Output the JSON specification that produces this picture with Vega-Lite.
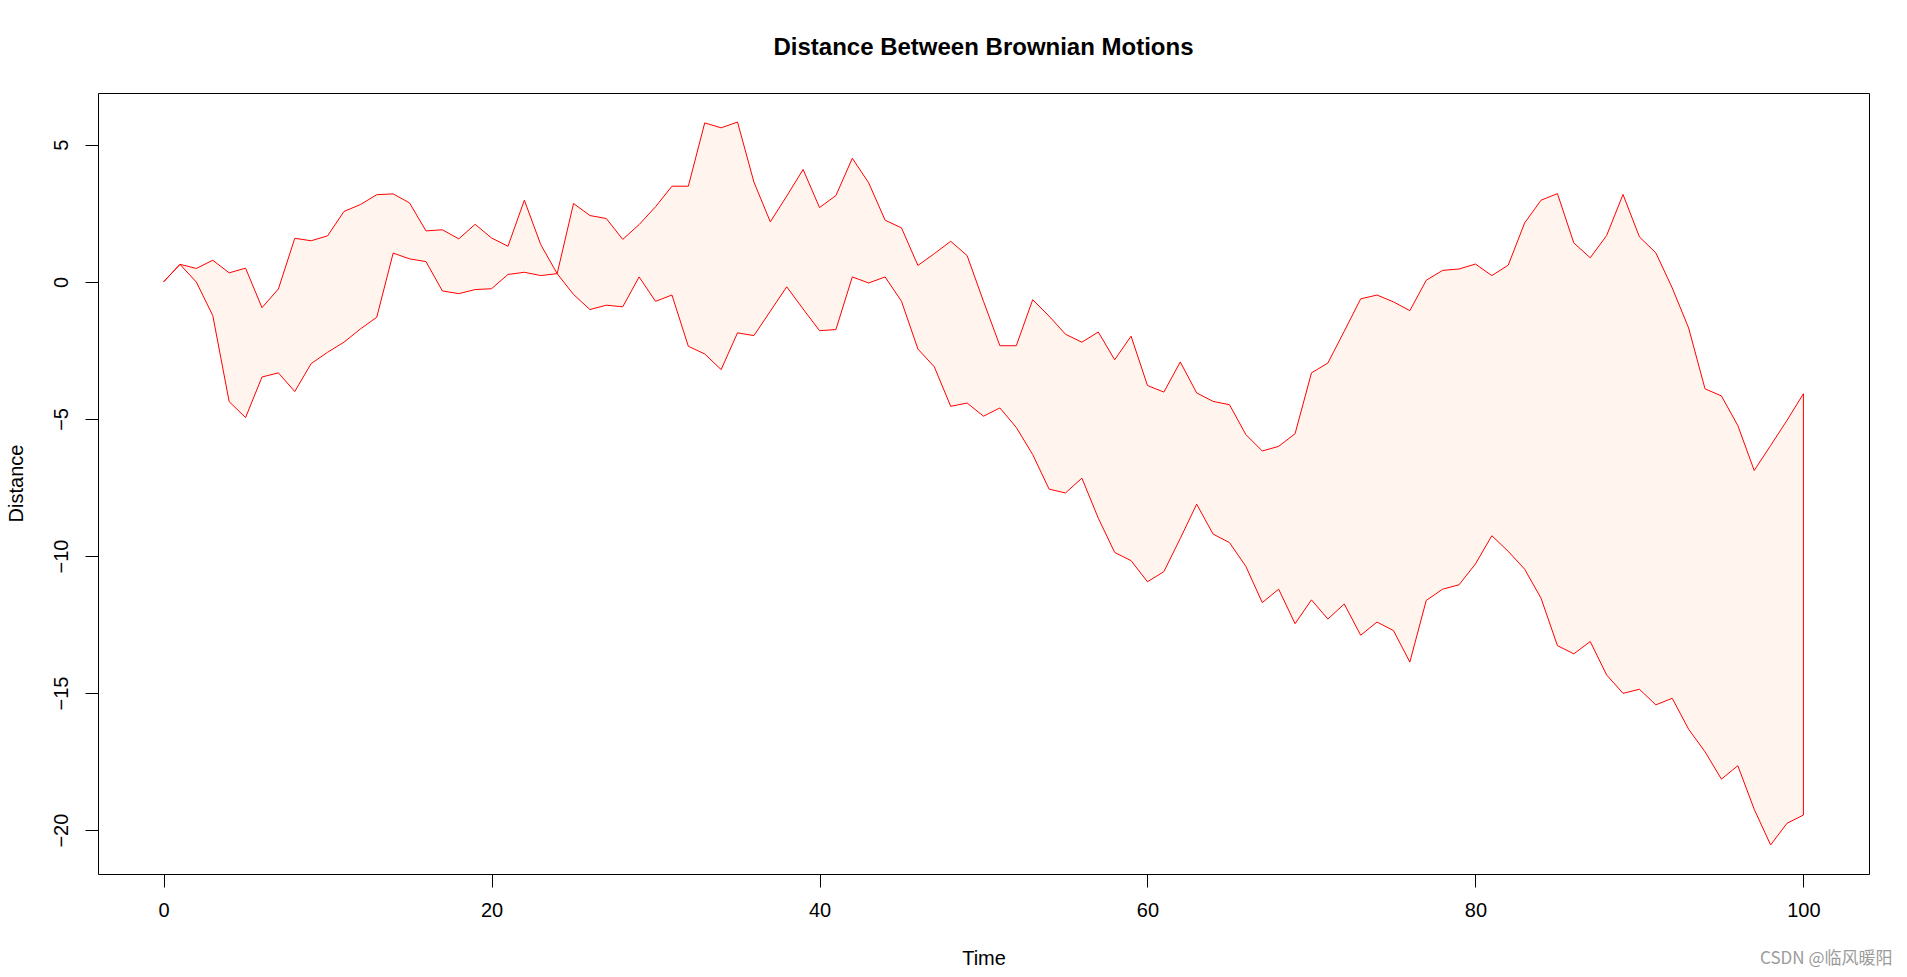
{
  "$schema": "https://vega.github.io/schema/vega-lite/v6.json",
  "width": 1771,
  "height": 781,
  "autosize": "none",
  "padding": {"left": 98, "top": 93, "right": 38, "bottom": 103},
  "background": "white",
  "title": {"text": "Distance Between Brownian Motions", "font": "Liberation Sans", "fontSize": 24, "fontWeight": "bold", "color": "black", "anchor": "middle", "frame": "group", "baseline": "alphabetic", "offset": 14},
  "config": {
    "view": {"stroke": "black", "strokeWidth": 1},
    "axis": {"grid": false, "domain": false, "ticks": true, "tickColor": "black", "tickSize": 13, "tickWidth": 1, "labelFont": "Liberation Sans", "labelFontSize": 20, "labelColor": "black", "labelFlush": false, "labelOverlap": false, "titleFont": "Liberation Sans", "titleFontSize": 20, "titleFontWeight": "normal", "titleColor": "black"}
  },
  "data": {"values": [
    {"t":0,"bm1":0,"bm2":0},
    {"t":1,"bm1":0.64,"bm2":0.64},
    {"t":2,"bm1":0.49,"bm2":-0.01},
    {"t":3,"bm1":0.79,"bm2":-1.23},
    {"t":4,"bm1":0.33,"bm2":-4.37},
    {"t":5,"bm1":0.50,"bm2":-4.95},
    {"t":6,"bm1":-0.94,"bm2":-3.47},
    {"t":7,"bm1":-0.26,"bm2":-3.32},
    {"t":8,"bm1":1.59,"bm2":-4.00},
    {"t":9,"bm1":1.50,"bm2":-2.98},
    {"t":10,"bm1":1.68,"bm2":-2.57},
    {"t":11,"bm1":2.57,"bm2":-2.20},
    {"t":12,"bm1":2.82,"bm2":-1.72},
    {"t":13,"bm1":3.18,"bm2":-1.29},
    {"t":14,"bm1":3.21,"bm2":1.05},
    {"t":15,"bm1":2.88,"bm2":0.84},
    {"t":16,"bm1":1.86,"bm2":0.74},
    {"t":17,"bm1":1.90,"bm2":-0.33},
    {"t":18,"bm1":1.57,"bm2":-0.43},
    {"t":19,"bm1":2.10,"bm2":-0.28},
    {"t":20,"bm1":1.60,"bm2":-0.25},
    {"t":21,"bm1":1.30,"bm2":0.27},
    {"t":22,"bm1":2.98,"bm2":0.35},
    {"t":23,"bm1":1.36,"bm2":0.23},
    {"t":24,"bm1":0.30,"bm2":0.30},
    {"t":25,"bm1":-0.46,"bm2":2.86},
    {"t":26,"bm1":-1.01,"bm2":2.42},
    {"t":27,"bm1":-0.85,"bm2":2.31},
    {"t":28,"bm1":-0.91,"bm2":1.55},
    {"t":29,"bm1":0.18,"bm2":2.09},
    {"t":30,"bm1":-0.71,"bm2":2.74},
    {"t":31,"bm1":-0.48,"bm2":3.49},
    {"t":32,"bm1":-2.35,"bm2":3.49},
    {"t":33,"bm1":-2.63,"bm2":5.80},
    {"t":34,"bm1":-3.20,"bm2":5.62},
    {"t":35,"bm1":-1.86,"bm2":5.83},
    {"t":36,"bm1":-1.96,"bm2":3.64},
    {"t":37,"bm1":-1.07,"bm2":2.19},
    {"t":38,"bm1":-0.18,"bm2":3.13},
    {"t":39,"bm1":-0.99,"bm2":4.10},
    {"t":40,"bm1":-1.78,"bm2":2.71},
    {"t":41,"bm1":-1.74,"bm2":3.15},
    {"t":42,"bm1":0.18,"bm2":4.51},
    {"t":43,"bm1":-0.04,"bm2":3.61},
    {"t":44,"bm1":0.18,"bm2":2.25},
    {"t":45,"bm1":-0.71,"bm2":1.97},
    {"t":46,"bm1":-2.45,"bm2":0.60},
    {"t":47,"bm1":-3.10,"bm2":1.03},
    {"t":48,"bm1":-4.54,"bm2":1.48},
    {"t":49,"bm1":-4.42,"bm2":0.96},
    {"t":50,"bm1":-4.90,"bm2":-0.71},
    {"t":51,"bm1":-4.60,"bm2":-2.33},
    {"t":52,"bm1":-5.31,"bm2":-2.33},
    {"t":53,"bm1":-6.30,"bm2":-0.65},
    {"t":54,"bm1":-7.56,"bm2":-1.25},
    {"t":55,"bm1":-7.70,"bm2":-1.91},
    {"t":56,"bm1":-7.16,"bm2":-2.20},
    {"t":57,"bm1":-8.62,"bm2":-1.83},
    {"t":58,"bm1":-9.87,"bm2":-2.84},
    {"t":59,"bm1":-10.17,"bm2":-1.98},
    {"t":60,"bm1":-10.94,"bm2":-3.78},
    {"t":61,"bm1":-10.57,"bm2":-4.02},
    {"t":62,"bm1":-9.36,"bm2":-2.92},
    {"t":63,"bm1":-8.11,"bm2":-4.05},
    {"t":64,"bm1":-9.20,"bm2":-4.36},
    {"t":65,"bm1":-9.51,"bm2":-4.48},
    {"t":66,"bm1":-10.38,"bm2":-5.57},
    {"t":67,"bm1":-11.70,"bm2":-6.17},
    {"t":68,"bm1":-11.21,"bm2":-6.00},
    {"t":69,"bm1":-12.47,"bm2":-5.54},
    {"t":70,"bm1":-11.60,"bm2":-3.32},
    {"t":71,"bm1":-12.30,"bm2":-2.96},
    {"t":72,"bm1":-11.75,"bm2":-1.80},
    {"t":73,"bm1":-12.89,"bm2":-0.62},
    {"t":74,"bm1":-12.41,"bm2":-0.48},
    {"t":75,"bm1":-12.72,"bm2":-0.73},
    {"t":76,"bm1":-13.87,"bm2":-1.05},
    {"t":77,"bm1":-11.62,"bm2":0.06},
    {"t":78,"bm1":-11.21,"bm2":0.42},
    {"t":79,"bm1":-11.05,"bm2":0.47},
    {"t":80,"bm1":-10.29,"bm2":0.65},
    {"t":81,"bm1":-9.26,"bm2":0.23},
    {"t":82,"bm1":-9.83,"bm2":0.61},
    {"t":83,"bm1":-10.48,"bm2":2.15},
    {"t":84,"bm1":-11.54,"bm2":2.98},
    {"t":85,"bm1":-13.27,"bm2":3.22},
    {"t":86,"bm1":-13.57,"bm2":1.42},
    {"t":87,"bm1":-13.12,"bm2":0.88},
    {"t":88,"bm1":-14.34,"bm2":1.69},
    {"t":89,"bm1":-15.01,"bm2":3.19},
    {"t":90,"bm1":-14.86,"bm2":1.64},
    {"t":91,"bm1":-15.43,"bm2":1.06},
    {"t":92,"bm1":-15.19,"bm2":-0.22},
    {"t":93,"bm1":-16.32,"bm2":-1.68},
    {"t":94,"bm1":-17.14,"bm2":-3.90},
    {"t":95,"bm1":-18.14,"bm2":-4.16},
    {"t":96,"bm1":-17.65,"bm2":-5.24},
    {"t":97,"bm1":-19.24,"bm2":-6.88},
    {"t":98,"bm1":-20.54,"bm2":-5.97},
    {"t":99,"bm1":-19.75,"bm2":-5.05},
    {"t":100,"bm1":-19.45,"bm2":-4.08}
  ]},
  "layer": [
    {
      "mark": {"type": "area", "color": "#FFF5EE", "opacity": 1},
      "encoding": {
        "x": {"field": "t", "type": "quantitative", "title": "Time",
              "scale": {"domain": [-4, 104], "nice": false, "zero": false},
              "axis": {"orient": "bottom", "values": [0, 20, 40, 60, 80, 100], "labelPadding": 23, "labelBaseline": "middle", "labelAlign": "center", "titleBaseline": "middle", "titleY": 84}},
        "y": {"field": "bm1", "type": "quantitative", "title": "Distance",
              "scale": {"domain": [-21.6, 6.89], "nice": false, "zero": false},
              "axis": {"values": [-20, -15, -10, -5, 0, 5], "labelAngle": -90, "labelAlign": "center", "labelBaseline": "middle", "labelPadding": 24, "titleAngle": -90, "titleX": -82, "titleY": 390, "titleAlign": "center", "titleBaseline": "middle"}},
        "y2": {"field": "bm2"}
      }
    },
    {
      "mark": {"type": "line", "color": "#FF0000", "strokeWidth": 1},
      "encoding": {
        "x": {"field": "t", "type": "quantitative", "axis": null},
        "y": {"field": "bm1", "type": "quantitative", "title": "Distance"}
      }
    },
    {
      "mark": {"type": "line", "color": "#FF0000", "strokeWidth": 1},
      "encoding": {
        "x": {"field": "t", "type": "quantitative", "axis": null},
        "y": {"field": "bm2", "type": "quantitative", "title": "Distance"}
      }
    },
    {
      "transform": [{"filter": "datum.t == 100"}],
      "mark": {"type": "rule", "color": "#FF0000", "strokeWidth": 1},
      "encoding": {
        "x": {"field": "t", "type": "quantitative",
              "axis": {"orient": "bottom", "domain": false, "ticks": false, "labels": false, "title": "CSDN @临风暖阳", "titleFont": "Noto Sans CJK SC", "titleFontSize": 17, "titleFontWeight": "normal", "titleColor": "#9b9b9b", "titleAlign": "right", "titleX": 1794, "titleY": 84, "titleBaseline": "middle"}},
        "y": {"field": "bm1", "type": "quantitative", "title": "Distance"},
        "y2": {"field": "bm2"}
      }
    }
  ],
  "resolve": {"axis": {"x": "independent"}}
}
